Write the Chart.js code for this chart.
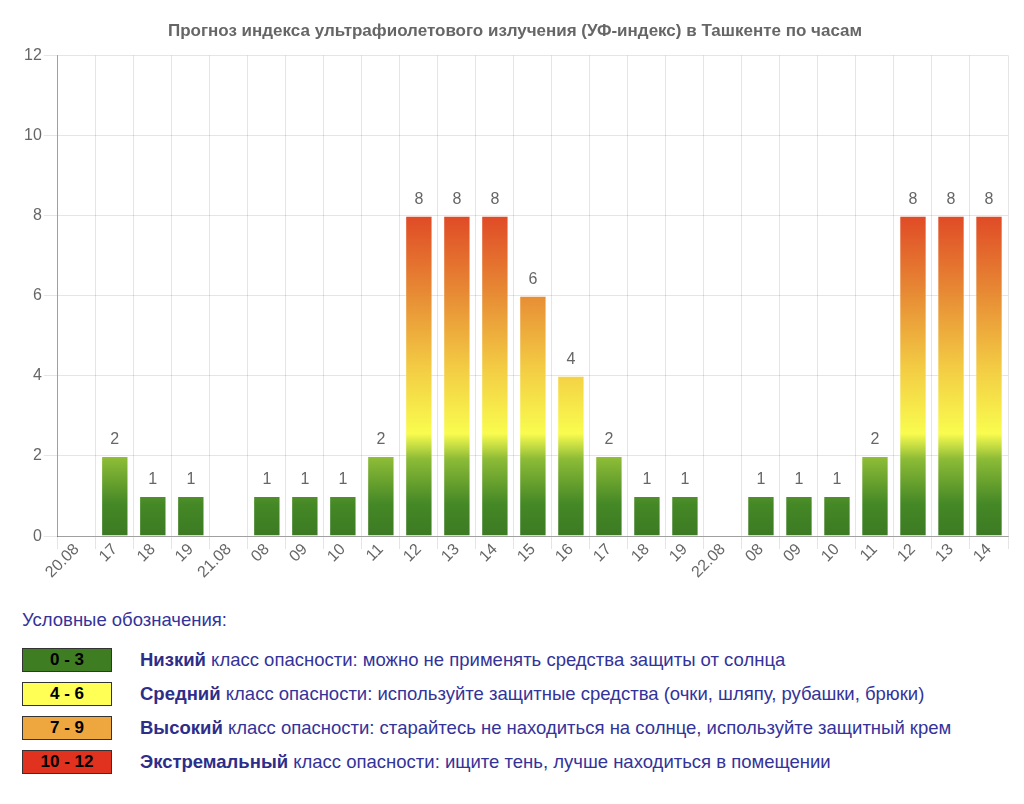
<!DOCTYPE html>
<html>
<head>
<meta charset="utf-8">
<script src="https://cdn.jsdelivr.net/npm/chart.js@4/dist/chart.umd.min.js"></script>
<style>
	body { margin: 0; background: #fff; font-family: "Liberation Sans", Arial, sans-serif; }
	.chart-container { position: relative; width: 1024px; height: 584px; }
	.legend { padding-left: 22px; color: #33339a; font-size: 18.5px; }
	.legend-title { margin: 25px 0 13px 0; line-height: 21px; }
	.legend-row { height: 34px; display: flex; align-items: center; }
	.legend-box { width: 88px; height: 22px; border: 1px solid #333; color: #000; font-weight: bold; font-size: 17px; text-align: center; line-height: 22px; margin-right: 28px; }
	.legend-row b { color: #2d2d8a; }
</style>
</head>
<body>
<div class="chart-container"><canvas id="chart"></canvas></div>
<div class="legend">
	<div class="legend-title">Условные обозначения:</div>
	<div class="legend-list"></div>
</div>
<script>
var labels = ['20.08', '17', '18', '19', '21.08', '08', '09', '10', '11', '12', '13', '14', '15', '16', '17', '18', '19', '22.08', '08', '09', '10', '11', '12', '13', '14'];
var uvValues = [null, 2, 1, 1, null, 1, 1, 1, 2, 8, 8, 8, 6, 4, 2, 1, 1, null, 1, 1, 1, 2, 8, 8, 8];

var legendRanges = ['0 - 3', '4 - 6', '7 - 9', '10 - 12'];
var legendColors = ['#3f7d22', '#ffff55', '#eea63e', '#e0321e'];
var legendNames = ['Низкий', 'Средний', 'Высокий', 'Экстремальный'];
var legendTexts = [
	' класс опасности: можно не применять средства защиты от солнца',
	' класс опасности: используйте защитные средства (очки, шляпу, рубашки, брюки)',
	' класс опасности: старайтесь не находиться на солнце, используйте защитный крем',
	' класс опасности: ищите тень, лучше находиться в помещении'
];

function showLegend() {
	var list = document.querySelector('.legend-list');
	for (var i = 0; i < legendRanges.length; i++) {
		var row = document.createElement('div');
		row.className = 'legend-row';
		row.innerHTML = '<div class="legend-box" style="background:' + legendColors[i] + '">' + legendRanges[i] + '</div>' +
			'<span><b>' + legendNames[i] + '</b>' + legendTexts[i] + '</span>';
		list.appendChild(row);
	}
}

function uvGradient(context) {
	var chart = context.chart;
	if (!chart.chartArea) return '#3f7d22';
	var y = chart.scales.y;
	var g = chart.ctx.createLinearGradient(0, y.getPixelForValue(0), 0, y.getPixelForValue(8));
	g.addColorStop(0, '#3c7a23');
	g.addColorStop(0.1, '#458826');
	g.addColorStop(0.24, '#8cbb36');
	g.addColorStop(0.32, '#f9fc4e');
	g.addColorStop(0.52, '#f3cd44');
	g.addColorStop(0.76, '#e78a34');
	g.addColorStop(1, '#e04a26');
	return g;
}

var valueLabels = {
	id: 'valueLabels',
	afterDatasetsDraw: function (chart) {
		var ctx = chart.ctx;
		var meta = chart.getDatasetMeta(0);
		ctx.save();
		ctx.font = '16px "Liberation Sans", Arial, sans-serif';
		ctx.fillStyle = '#666';
		ctx.textAlign = 'center';
		ctx.textBaseline = 'bottom';
		for (var i = 0; i < meta.data.length; i++) {
			var v = uvValues[i];
			if (v === null) continue;
			ctx.fillText(v, meta.data[i].x, meta.data[i].y - 8);
		}
		ctx.restore();
	}
};

Chart.defaults.font.family = '"Liberation Sans", Arial, sans-serif';
Chart.defaults.color = '#666';

var ctx = document.getElementById('chart').getContext('2d');
var uvChart = new Chart(ctx, {
	type: 'bar',
	data: {
		labels: labels,
		datasets: [{
			data: uvValues,
			backgroundColor: uvGradient,
			borderColor: 'rgba(255,255,255,0.35)',
			borderWidth: 1
		}]
	},
	plugins: [valueLabels],
	options: {
		responsive: true,
		maintainAspectRatio: false,
		animation: false,
		layout: { padding: { left: 22, right: 16, top: 3 } },
		plugins: {
			legend: { display: false },
			tooltip: { enabled: false },
			title: {
				display: true,
				text: 'Прогноз индекса ультрафиолетового излучения (УФ-индекс) в Ташкенте по часам',
				font: { size: 17, weight: 'bold' },
				color: '#666',
				padding: { top: 18, bottom: 14 }
			}
		},
		scales: {
			x: {
				grid: { color: 'rgba(0,0,0,0.1)', tickLength: 13 },
				border: { color: 'rgba(0,0,0,0.3)' },
				ticks: { font: { size: 16 }, maxRotation: 45, minRotation: 45, autoSkip: false, padding: -9 },
				afterFit: function (scale) {
					scale.height += 11;
				}
			},
			y: {
				min: 0,
				max: 12,
				grid: { color: 'rgba(0,0,0,0.1)', tickLength: 14 },
				border: { color: 'rgba(0,0,0,0.3)' },
				ticks: { stepSize: 2, font: { size: 16 }, padding: 2 }
			}
		}
	}
});

showLegend();
</script>
</body>
</html>
